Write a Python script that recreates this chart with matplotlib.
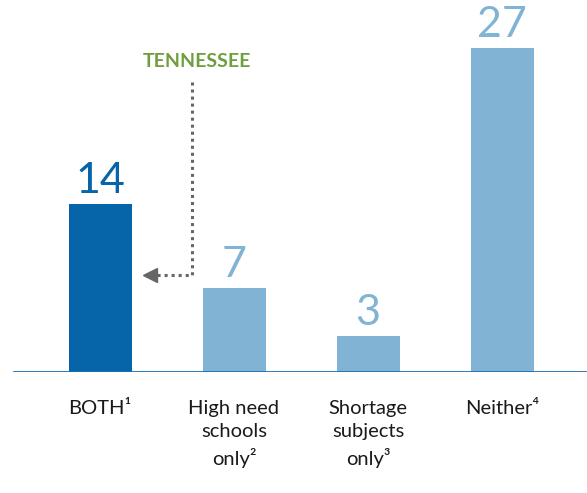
import matplotlib.pyplot as plt
import numpy as np

plt.rcParams['font.family'] = ['Lato', 'DejaVu Sans']

categories = ['BOTH\u00b9', 'High need\nschools\nonly\u00b2', 'Shortage\nsubjects\nonly\u00b3', 'Neither\u2074']
values = [14, 7, 3, 27]
colors = ['#0565a8', '#80b3d4', '#80b3d4', '#80b3d4']
num_colors = ['#0565a8', '#80b3d4', '#80b3d4', '#80b3d4']

fig = plt.figure(figsize=(5.87, 4.93), dpi=100)
# axes spans full width; baseline at 372px from top
ax = fig.add_axes([0, (493 - 372) / 493, 1, 372 / 493])
ax.set_xlim(-100 / 134, (587 - 100) / 134)
ax.set_ylim(0, 31)
ax.axis('off')

x = np.arange(len(values))
ax.bar(x, values, width=63 / 134, color=colors)

for xi, v, c in zip(x, values, num_colors):
    ax.text(xi, v + 0.3, str(v), ha='center', va='bottom', fontsize=31,
            color=c)

for xi, lab in zip(x, categories):
    ax.text(xi, -2.3, lab, ha='center', va='top', fontsize=14.5, color='#1a1a1a',
            linespacing=1.45, clip_on=False)

ax.axhline(0, xmin=14 / 587, xmax=1, color='#1f6fb0', lw=2)

# Tennessee annotation
ax.text(0.725, 25.9, 'TENNESSEE', ha='center', va='center', fontsize=14,
        fontweight='bold', color='#6f9e3e')
xv = (192 - 100) / 134
xh = (150 - 100) / 134
ya = (372 - 82) / 12
yb = (372 - 275) / 12
ax.plot([xv, xv, xh], [ya, yb, yb], ls=(0, (1, 1.3)), lw=2.2, color='#666666')
ax.plot([xh], [yb], marker='<', markersize=10, color='#666666')

fig.savefig('out.png', dpi=100)
